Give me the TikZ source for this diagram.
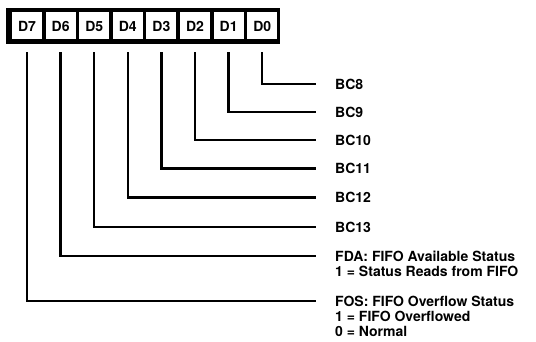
\documentclass[tikz,border=0pt]{standalone}
\usepackage{fontspec}
\setmainfont{TeX Gyre Heros}
\usepackage{tikz}
\usetikzlibrary{positioning}

\begin{document}
\begin{tikzpicture}[x=1pt,y=-1pt,
  bitcell/.style={fill=white,inner sep=0pt,minimum width=30pt,minimum height=27pt,font=\fontsize{14}{15}\bfseries\selectfont},
  note/.style={anchor=west,inner xsep=19pt,inner ysep=0pt,font=\fontsize{14}{15}\bfseries\selectfont},
  wire/.style={line width=2.4pt}]
\useasboundingbox (0,0) rectangle (536,342);
\fill [black] (6,8) rectangle (280,44.5);
\node [bitcell] (d7) at (27,26) {D7};
\node [bitcell] (d6) at (60.6,26) {D6};
\node [bitcell] (d5) at (94.2,26) {D5};
\node [bitcell] (d4) at (127.8,26) {D4};
\node [bitcell] (d3) at (161.4,26) {D3};
\node [bitcell] (d2) at (195,26) {D2};
\node [bitcell] (d1) at (228.6,26) {D1};
\node [bitcell] (d0) at (262.2,26) {D0};
% labels
\node [note] (bc8) at (316,84) {BC8};
\node [note] (bc9) at (316,112) {BC9};
\node [note] (bc10) at (316,140) {BC10};
\node [note] (bc11) at (316,168.5) {BC11};
\node [note] (bc12) at (316,197.5) {BC12};
\node [note] (bc13) at (316,227) {BC13};
\node [note] (fda) at (316,256) {FDA: FIFO Available Status};
\node [note,anchor=base west] (fda1) at ([yshift=-15pt]fda.base west) {1 = Status Reads from FIFO};
\node [note] (fos) at (316,301) {FOS: FIFO Overflow Status};
\node [note,anchor=base west] (fos1) at ([yshift=-15pt]fos.base west) {1 = FIFO Overflowed};
\node [note,anchor=base west] (fos0) at ([yshift=-15pt]fos1.base west) {0 = Normal};
% bit lines
\draw [wire] ([yshift=-12.5pt]d0.south) |- (bc8.west);
\draw [wire] ([yshift=-12.5pt]d1.south) |- (bc9.west);
\draw [wire] ([yshift=-12.5pt]d2.south) |- (bc10.west);
\draw [wire] ([yshift=-12.5pt]d3.south) |- (bc11.west);
\draw [wire] ([yshift=-12.5pt]d4.south) |- (bc12.west);
\draw [wire] ([yshift=-12.5pt]d5.south) |- (bc13.west);
\draw [wire] ([yshift=-12.5pt]d6.south) |- (fda.west);
\draw [wire] ([yshift=-12.5pt]d7.south) |- (fos.west);
\end{tikzpicture}
\end{document}
